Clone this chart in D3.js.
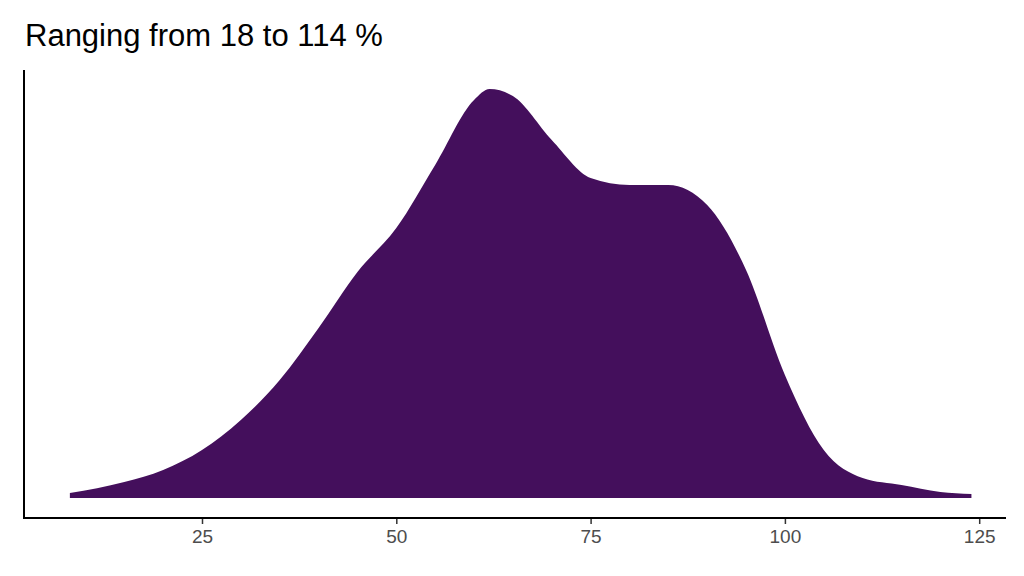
<!DOCTYPE html>
<html><head><meta charset="utf-8">
<script src="https://cdn.jsdelivr.net/npm/d3@7"></script>
<style>body{margin:0;background:#fff;font-family:"Liberation Sans",Arial,sans-serif;}</style>
</head><body>
<div id="chart"></div>
<script>
const TITLE = "Ranging from 18 to 114 %";
// density estimate (x in %, density x 1e-3)
const xs = [8, 15, 20, 25, 30, 35, 40, 45, 50, 55, 60, 62, 65, 70, 75, 80, 85, 90, 95, 100, 105, 110, 115, 120, 124];
const dens = [0.25, 0.8, 1.4, 2.4, 3.9, 5.9, 8.5, 11.3, 13.5, 16.65, 19.9, 20.45, 20.1, 17.9, 16, 15.65, 15.65, 14.65, 11.4, 6.15, 2.4, 1.0, 0.65, 0.3, 0.2];
const xTicks = [25, 50, 75, 100, 125];

const W = 1024, H = 576;
const svg = d3.select("#chart").append("svg").attr("width", W).attr("height", H);

const x = d3.scaleLinear().domain([0, 25]).range([7.7, 202]);
const y = d3.scaleLinear().domain([0, 20.45]).range([498, 89]);

const pts = xs.map((v, i) => [v, dens[i]]);
const area = d3.area().x(d => x(d[0])).y0(y(0)).y1(d => y(d[1])).curve(d3.curveMonotoneX);
svg.append("path").datum(pts).attr("d", area).attr("fill", "#440f5c");

// axes
const gx = svg.append("g").attr("transform", "translate(0,518)")
  .call(d3.axisBottom(x).tickValues(xTicks).tickSize(6).tickPadding(6).tickSizeOuter(0));
gx.select(".domain").remove();
gx.selectAll("line").attr("stroke", "#333").attr("stroke-width", 1.5);
gx.selectAll("text").attr("fill", "#4d4d4d").style("font-size", "19px").style("font-family", "Liberation Sans, Arial, sans-serif");
svg.append("line").attr("x1", 24).attr("x2", 1006).attr("y1", 518).attr("y2", 518).attr("stroke", "#000").attr("stroke-width", 2);
svg.append("line").attr("x1", 24).attr("x2", 24).attr("y1", 70).attr("y2", 519).attr("stroke", "#000").attr("stroke-width", 2);

svg.append("text").attr("x", 25).attr("y", 46).text(TITLE)
  .style("font-size", "31px").attr("fill", "#000");
</script>
</body></html>
